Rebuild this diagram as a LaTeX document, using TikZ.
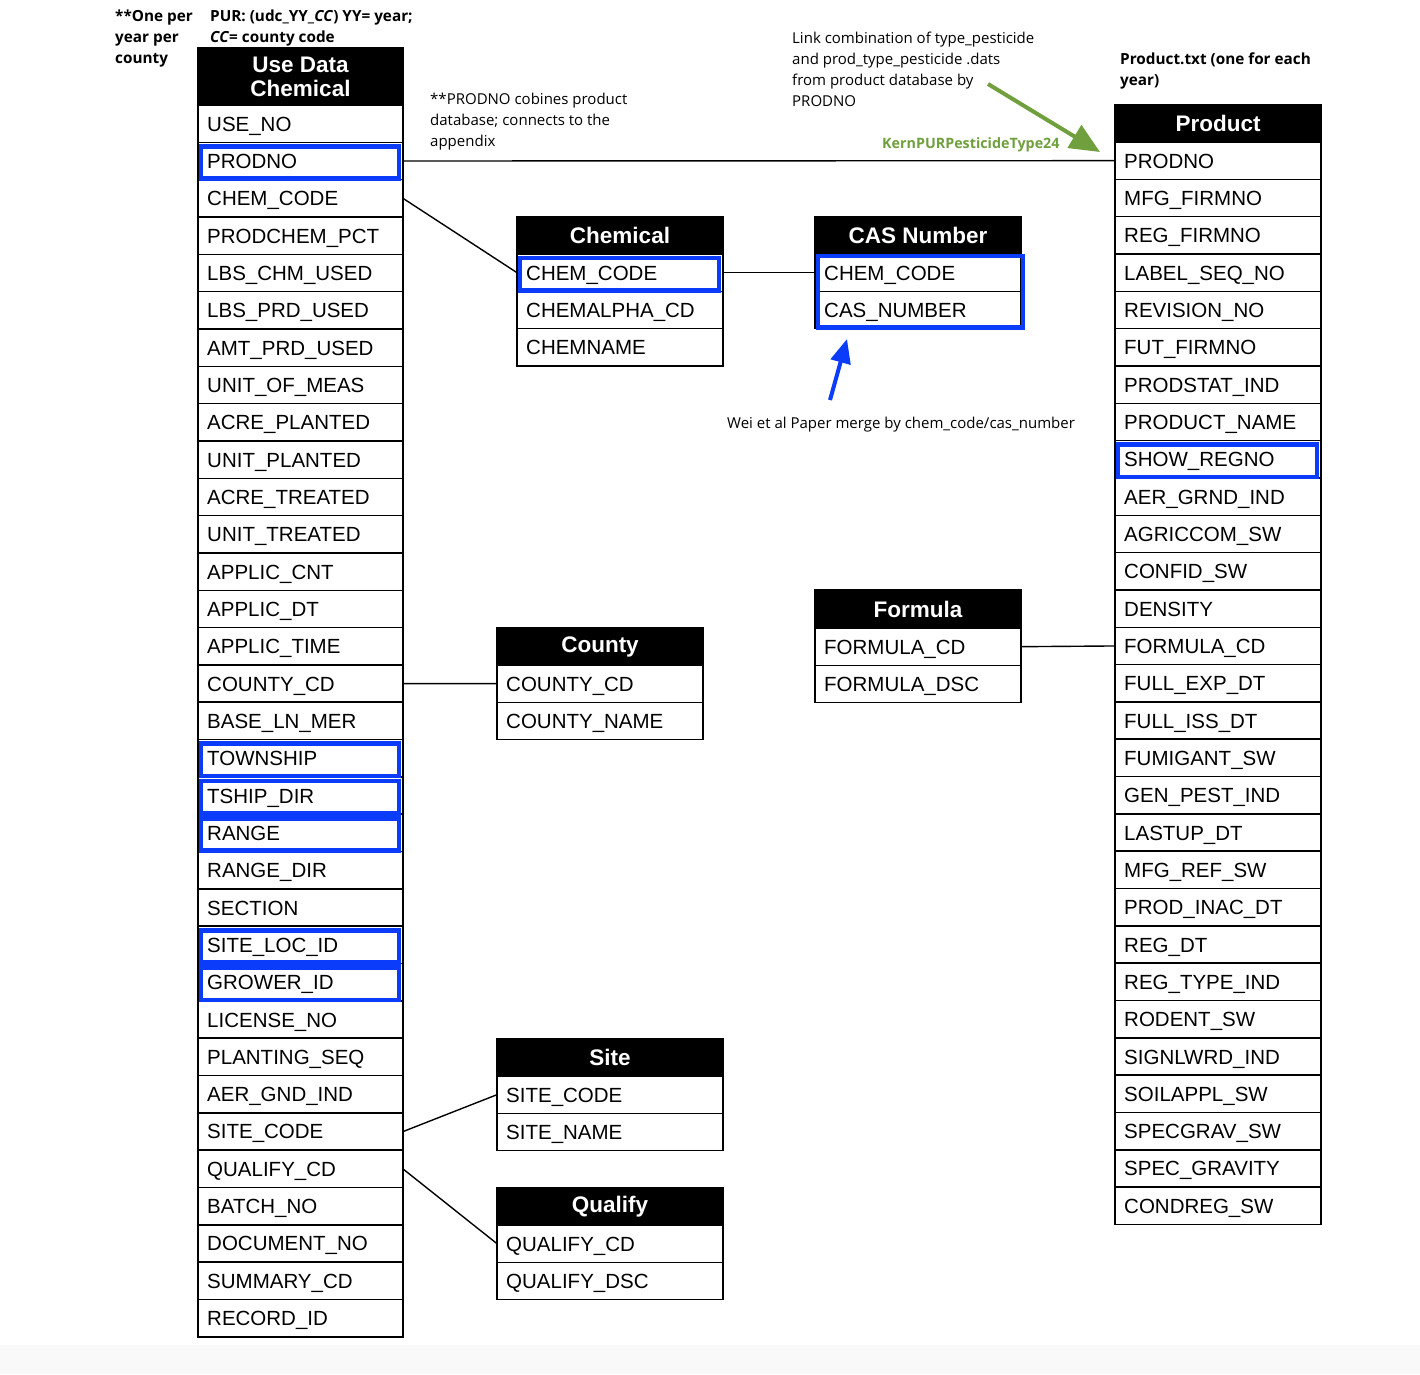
\documentclass[tikz,border=0pt]{standalone}
\usepackage{fontspec}
\setmainfont{Liberation Sans}
\newfontfamily\notefont{Open Sans}
\usetikzlibrary{arrows.meta}
\definecolor{hlblue}{RGB}{10,60,250}
\definecolor{kgreen}{RGB}{112,160,62}
\definecolor{stripgray}{RGB}{249,249,249}
\newcommand\dbtable[7]{%
  \node[hdr, minimum width=#4pt, minimum height=#5pt] (#1h) at (#2,#3) {#6};
  \foreach \t [count=\i] in {#7} {
    \node[rowbox, minimum width=#4pt] (#1\i) at (#2,{#3+#5+37.33*(\i-1)}) {};
    \node[rowtext] (#1t\i) at ([shift={(9,7.4)}]#1\i.west) {\t};
  }%
}
\newcommand\hlbox[2]{%
  \draw[hl] ([shift={(3,4)}]#1.north west) rectangle ([shift={(-4,-1)}]#2.south east);%
}
\begin{document}
\begin{tikzpicture}[x=1pt,y=-1pt,
  hdr/.style={draw=black, fill=black, text=white, line width=1.6pt, outer sep=0pt,
    inner sep=0pt, anchor=north west, align=center,
    font=\fontsize{22.5}{24}\selectfont\bfseries},
  rowbox/.style={draw=black, line width=1.6pt, outer sep=0pt, inner sep=0pt,
    minimum height=37.33pt, anchor=north west},
  rowtext/.style={anchor=base west, inner sep=0pt, font=\fontsize{20.5}{24}\selectfont},
  hl/.style={draw=hlblue, line width=4.5pt},
  conn/.style={draw=black, line width=1.4pt},
  note/.style={anchor=north west, inner sep=0pt, align=left,
    font=\notefont\fontsize{15}{21}\selectfont},
  bnote/.style={note, font=\notefont\bfseries\fontsize{15.3}{21}\selectfont},
]
\fill[white] (0,0) rectangle (1420,1374);
\fill[stripgray] (0,1345) rectangle (1420,1374);

% tables
\dbtable{u}{198}{48}{205}{57}{Use Data\\Chemical}{USE\_NO,PRODNO,CHEM\_CODE,PRODCHEM\_PCT,LBS\_CHM\_USED,LBS\_PRD\_USED,AMT\_PRD\_USED,UNIT\_OF\_MEAS,ACRE\_PLANTED,UNIT\_PLANTED,ACRE\_TREATED,UNIT\_TREATED,APPLIC\_CNT,APPLIC\_DT,APPLIC\_TIME,COUNTY\_CD,BASE\_LN\_MER,TOWNSHIP,TSHIP\_DIR,RANGE,RANGE\_DIR,SECTION,SITE\_LOC\_ID,GROWER\_ID,LICENSE\_NO,PLANTING\_SEQ,AER\_GND\_IND,SITE\_CODE,QUALIFY\_CD,BATCH\_NO,DOCUMENT\_NO,SUMMARY\_CD,RECORD\_ID}
\dbtable{p}{1115}{105}{206}{37}{Product}{PRODNO,MFG\_FIRMNO,REG\_FIRMNO,LABEL\_SEQ\_NO,REVISION\_NO,FUT\_FIRMNO,PRODSTAT\_IND,PRODUCT\_NAME,SHOW\_REGNO,AER\_GRND\_IND,AGRICCOM\_SW,CONFID\_SW,DENSITY,FORMULA\_CD,FULL\_EXP\_DT,FULL\_ISS\_DT,FUMIGANT\_SW,GEN\_PEST\_IND,LASTUP\_DT,MFG\_REF\_SW,PROD\_INAC\_DT,REG\_DT,REG\_TYPE\_IND,RODENT\_SW,SIGNLWRD\_IND,SOILAPPL\_SW,SPECGRAV\_SW,SPEC\_GRAVITY,CONDREG\_SW}
\dbtable{ch}{517}{217}{206}{37}{Chemical}{CHEM\_CODE,CHEMALPHA\_CD,CHEMNAME}
\dbtable{cas}{815}{217}{206}{37}{CAS Number}{CHEM\_CODE,CAS\_NUMBER}
\dbtable{co}{497}{628}{206}{37}{County}{COUNTY\_CD,COUNTY\_NAME}
\dbtable{f}{815}{590}{206}{38}{Formula}{FORMULA\_CD,FORMULA\_DSC}
\dbtable{s}{497}{1039}{226}{37}{Site}{SITE\_CODE,SITE\_NAME}
\dbtable{q}{497}{1188}{226}{37}{Qualify}{QUALIFY\_CD,QUALIFY\_DSC}

% highlights
\hlbox{u2}{u2}
\hlbox{u18}{u18}
\hlbox{u19}{u19}
\hlbox{u20}{u20}
\hlbox{u23}{u23}
\hlbox{u24}{u24}
\hlbox{ch1}{ch1}
\draw[hl] ([shift={(3,2)}]cas1.north west) rectangle ([shift={(2,-1)}]cas2.south east);
\hlbox{p9}{p9}

% connectors
\draw[conn] (u2.east) -- (p1.west);
\draw[conn] (u3.east) -- (ch1.west);
\draw[conn] (ch1.east) -- (cas1.west);
\draw[conn] (u16.east) -- (co1.west);
\draw[conn] (f1.east) -- (p14.west);
\draw[conn] (u28.east) -- (s1.west);
\draw[conn] (u29.east) -- (q1.west);

% annotations
\node[bnote] (n1) at (115,10) {**One per\\year per\\county};
\node[bnote] (n2) at (210,10) {PUR: (udc\_YY\_\textit{CC}) YY= year;\\\textit{CC}= county code};
\node[note] (n3) at (430,93) {**PRODNO cobines product\\database; connects to the\\appendix};
\node[note] (n4) at (792,32) {Link combination of type\_pesticide\\and prod\_type\_pesticide .dats\\from product database by\\PRODNO};
\node[note, font=\notefont\bfseries\fontsize{14.3}{21}\selectfont, text=kgreen] (n5) at (882,137) {KernPURPesticideType24};
\node[bnote] (n6) at (1120,53) {Product.txt (one for each\\year)};
\node[note] (n7) at (727,417) {Wei et al Paper merge by chem\_code/cas\_number};

% arrows
\coordinate (ga) at (988,84);
\coordinate (gb) at (1100,152);
\draw[draw=kgreen, line width=4pt, -{Triangle[length=30pt,width=26pt]}] (ga) -- (gb);
\coordinate (ba) at (830,400);
\coordinate (bb) at (847,339);
\draw[draw=hlblue, line width=4pt, -{Triangle[length=24pt,width=20pt]}] (ba) -- (bb);
\end{tikzpicture}
\end{document}
